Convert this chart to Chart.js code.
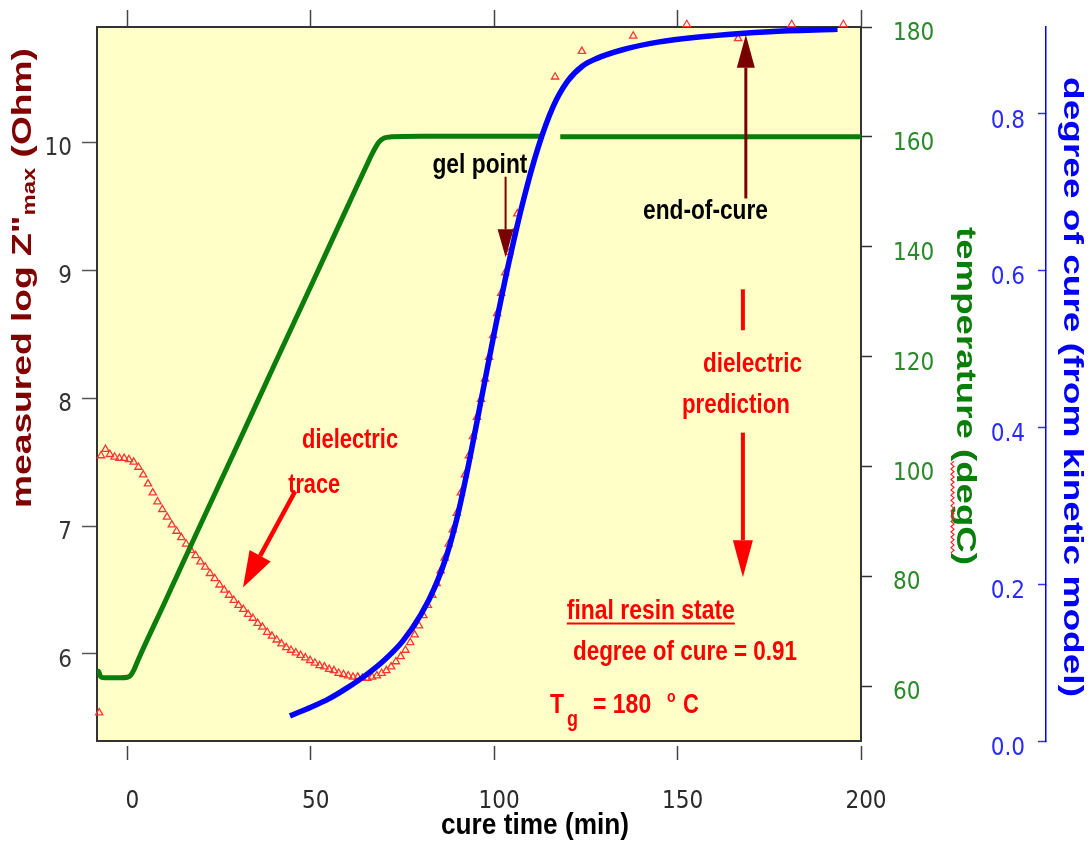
<!DOCTYPE html>
<html><head><meta charset="utf-8">
<script src="https://cdn.jsdelivr.net/npm/chart.js@4.4.1/dist/chart.umd.min.js"></script>
<style>html,body{margin:0;padding:0;background:#fff;}canvas{display:block;}</style>
</head><body>
<canvas id="c" width="1091" height="841" style="width:1091px;height:841px"></canvas>
<script>
// ---------------- data ----------------
const traceTime = [-7.2,-6.0,-4.8,-3.5,-2.2,-0.9,0.4,1.7,3.0,4.3,5.6,6.9,8.2,9.5,10.8,12.1,13.4,14.7,16.0,17.3,
  18.6,19.9,21.2,22.5,23.8,25.1,26.4,27.7,29.0,30.3,31.6,32.9,34.2,35.5,36.8,38.1,39.4,40.7,42.0,43.3,
  44.6,45.9,47.2,48.5,49.8,51.1,52.4,53.7,55.0,56.3,57.6,58.9,60.2,61.5,62.8,64.1,65.4,66.7,68.0,69.3,
  70.6,71.9,73.2,74.5,75.8,77.1,78.3,79.5,80.7,81.9,83.1,84.3,85.4,86.5,87.6,88.7,89.8,90.9,92.0,93.1,
  94.2,95.3,96.4,97.5,98.6,99.7,100.8,101.9,103.0,104.1,105.2,106.3,
  116.6,123.9,137.9,152.5,166.5,181.1,195.2];
const traceLogZ = [7.55,7.60,7.56,7.54,7.53,7.53,7.52,7.50,7.46,7.40,7.33,7.26,7.19,7.13,7.07,7.01,6.96,6.91,6.86,6.81,
  6.77,6.72,6.68,6.63,6.59,6.54,6.50,6.46,6.42,6.38,6.35,6.31,6.28,6.24,6.21,6.17,6.14,6.11,6.08,6.05,
  6.03,6.01,5.99,5.97,5.95,5.93,5.91,5.90,5.88,5.87,5.85,5.84,5.83,5.82,5.82,5.81,5.81,5.82,5.83,5.85,
  5.87,5.90,5.94,5.98,6.03,6.09,6.15,6.22,6.30,6.38,6.46,6.55,6.65,6.75,6.86,6.97,7.10,7.26,7.40,7.55,
  7.70,7.85,7.99,8.15,8.32,8.49,8.66,8.82,8.98,9.14,9.29,9.44,
  10.51,10.71,10.83,10.92,10.81,10.92,10.92];
const outlierTime = [-7.7];
const outlierLogZ = [5.54];

const tempTime = [-8.3,-7.9,-7.3,-6,-4,-2,0,0.8,1.8,3,10,20,30,40,50,60,65,67,68.5,70,72,80,90,100,110,112.6,115,118,125,140,160,180,200];
const tempC    = [62.3,62.7,61.7,61.5,61.5,61.5,61.6,61.9,63.0,64.9,75.0,89.5,103.9,118.4,132.8,147.3,154.5,157.3,159.0,159.8,160.0,160.1,160.1,160.1,160.1,160.1,null,160.0,160.0,160.0,160.0,160.0,160.0];

const cureTime   = [44.3,50,55,60,65,70,75,80,84,87,90,93,96,100,104,108,112,116,120,124,128,135,145,160,175,193.6];
const cureDegree = [0.032,0.043,0.054,0.068,0.084,0.103,0.127,0.161,0.198,0.236,0.287,0.352,0.424,0.520,0.610,0.690,0.757,0.808,0.841,0.860,0.870,0.881,0.891,0.899,0.904,0.907];

const xTicks    = [0,50,100,150,200];
const logZTicks = [6,7,8,9,10];
const tempTicks = [60,80,100,120,140,160,180];
const cureTicks = [0,0.2,0.4,0.6,0.8];

// ---------------- styling ----------------
const SANS = "'Liberation Sans', Arial, Helvetica, sans-serif";
const NARROW = "'Liberation Sans Narrow', 'Arial Narrow', 'DejaVu Sans Condensed', sans-serif";
const RED = '#ff0000', DARKRED = '#7a0000', GREEN = '#0b7d0b', BLUE = '#0000ff', MAROON = '#800000';

const pts = (xs, ys) => xs.map((x, i) => ({x, y: ys[i]}));
const setTicks = arr => s => { s.ticks = arr.map(v => ({value: v})); };
const fixSize = (w, h) => s => {
  if (w !== null) s.width = w;
  if (h !== null) s.height = h;
  s.paddingTop = 0; s.paddingBottom = 0; s.paddingLeft = 0; s.paddingRight = 0;
};

function txt(ctx, s, x, y, o) {
  ctx.save();
  ctx.font = `${o.weight || 'bold'} ${o.size}px ${o.family || SANS}`;
  const w = ctx.measureText(s).width;
  const sx = o.width ? o.width / w : (o.sx || 1);
  ctx.translate(x, y);
  if (o.rot) ctx.rotate(o.rot);
  ctx.scale(sx, o.sy || 1);
  ctx.fillStyle = o.color;
  ctx.textBaseline = 'alphabetic';
  ctx.textAlign = 'left';
  ctx.fillText(s, o.align === 'left' ? 0 : -w / 2, 0);
  ctx.restore();
  return w * sx;
}
function arrow(ctx, x1, y1, x2, y2, color, lw, hl, hw) {
  const a = Math.atan2(y2 - y1, x2 - x1);
  const bx = x2 - hl * Math.cos(a), by = y2 - hl * Math.sin(a);
  ctx.save();
  ctx.strokeStyle = color; ctx.fillStyle = color; ctx.lineWidth = lw;
  ctx.beginPath(); ctx.moveTo(x1, y1); ctx.lineTo(bx, by); ctx.stroke();
  ctx.beginPath(); ctx.moveTo(x2, y2);
  ctx.lineTo(bx + hw / 2 * Math.sin(a), by - hw / 2 * Math.cos(a));
  ctx.lineTo(bx - hw / 2 * Math.sin(a), by + hw / 2 * Math.cos(a));
  ctx.closePath(); ctx.fill();
  ctx.restore();
}
function richRotated(ctx, parts, bx, cy, rot, len, color) {
  ctx.save();
  let total = 0;
  parts.forEach(p => { ctx.font = `bold ${p.size}px ${SANS}`; p.w = ctx.measureText(p.t).width; total += p.w; });
  ctx.translate(bx, cy); ctx.rotate(rot); ctx.scale(len / total, 1);
  ctx.fillStyle = color; ctx.textBaseline = 'alphabetic'; ctx.textAlign = 'left';
  let x = -total / 2;
  parts.forEach(p => {
    ctx.font = `bold ${p.size}px ${SANS}`;
    ctx.fillText(p.t, x, p.dy || 0);
    if (p.squiggle) {
      ctx.strokeStyle = '#ff2020'; ctx.lineWidth = 1; ctx.beginPath();
      for (let k = 0; k <= p.w; k += 2) ctx.lineTo(x + k, 4 + ((k / 2) % 2 ? 1.5 : -1.5));
      ctx.stroke();
    }
    x += p.w;
  });
  ctx.restore();
}

const decor = {
  id: 'decor',
  beforeDraw(chart) {
    const {ctx, chartArea: a} = chart;
    ctx.save(); ctx.fillStyle = '#FFFFC8';
    ctx.fillRect(a.left, a.top, a.right - a.left, a.bottom - a.top); ctx.restore();
  },
  afterDraw(chart) {
    const ctx = chart.ctx, X = chart.scales.x, Y = chart.scales.yL;
    const px = t => X.getPixelForValue(t), py = v => Y.getPixelForValue(v);
    const SY = 1.22;
    // gel point
    txt(ctx, 'gel point', px(96.1), py(9.76), {size: 22, color: '#000', width: 95, sy: SY});
    arrow(ctx, px(103.1), py(9.73), px(103.1), py(9.10), DARKRED, 2, 28, 16);
    // end-of-cure
    txt(ctx, 'end-of-cure', px(157.6), py(9.40), {size: 22, color: '#000', width: 125, sy: SY});
    arrow(ctx, px(168.6), py(9.56), px(168.6), py(10.84), DARKRED, 3, 33, 18);
    // dielectric prediction
    ctx.save(); ctx.strokeStyle = RED; ctx.lineWidth = 4; ctx.beginPath();
    ctx.moveTo(px(167.8), py(8.85)); ctx.lineTo(px(167.8), py(8.53)); ctx.stroke(); ctx.restore();
    txt(ctx, 'dielectric', px(170.4), py(8.20), {size: 22, color: RED, width: 99, sy: SY});
    txt(ctx, 'prediction', px(165.9), py(7.88), {size: 22, color: RED, width: 108, sy: SY});
    arrow(ctx, px(167.8), py(7.73), px(167.8), py(6.60), RED, 4, 37, 20);
    // dielectric trace
    txt(ctx, 'dielectric', px(60.7), py(7.61), {size: 22, color: RED, width: 96, sy: SY});
    txt(ctx, 'trace', px(50.9), py(7.26), {size: 22, color: RED, width: 52, sy: SY});
    arrow(ctx, px(45.7), py(7.27), px(31.5), py(6.52), RED, 4.5, 36, 24);
    // final resin state
    const fx = px(142.7), fy = py(6.27);
    const fw = txt(ctx, 'final resin state', fx, fy, {size: 22, color: RED, width: 168, sy: SY});
    ctx.save(); ctx.strokeStyle = RED; ctx.lineWidth = 2; ctx.beginPath();
    ctx.moveTo(fx - fw / 2, fy + 4); ctx.lineTo(fx + fw / 2, fy + 4); ctx.stroke(); ctx.restore();
    txt(ctx, 'degree of cure = 0.91', px(152.0), py(5.95), {size: 22, color: RED, width: 224, sy: SY});
    // Tg = 180 oC
    const tx = px(115.2), ty = py(5.54);
    txt(ctx, 'T', tx, ty, {size: 23, color: RED, sy: SY, align: 'left'});
    txt(ctx, 'g', tx + 17, ty + 13, {size: 18, color: RED, sy: SY, align: 'left'});
    txt(ctx, '= 180', tx + 43, ty, {size: 23, color: RED, sy: SY, align: 'left'});
    txt(ctx, 'o', tx + 117, ty - 11, {size: 14, color: RED, sy: SY, align: 'left'});
    txt(ctx, 'C', tx + 133, ty, {size: 22, color: RED, sy: SY, align: 'left'});

    // axis titles
    richRotated(ctx, [{t: 'measured log Z"', size: 28}, {t: 'max', size: 18, dy: 4}, {t: ' (Ohm)', size: 28}],
      30.5, 278, -Math.PI / 2, 460, MAROON);
    richRotated(ctx, [{t: 'temperature (', size: 28}, {t: 'degC', size: 28, squiggle: true}, {t: ')', size: 28}],
      956.5, 396, Math.PI / 2, 338, GREEN);
    richRotated(ctx, [{t: 'degree of cure (from kinetic model)', size: 27}],
      1063.5, 387, Math.PI / 2, 620, BLUE);
    txt(ctx, 'cure time (min)', 535, 834, {size: 26, color: '#000', width: 188, sy: 1.15});
  }
};

const tickFont = {family: NARROW, size: 24};
const noGrid = (len, color, extra) => Object.assign({drawOnChartArea: false, drawTicks: true, tickLength: len, tickColor: color, tickWidth: 1.5}, extra || {});

new Chart(document.getElementById('c'), {
  type: 'line',
  data: {
    datasets: [
      {label: 'degree of cure (kinetic model)', data: pts(cureTime, cureDegree), xAxisID: 'x', yAxisID: 'yD',
        borderColor: BLUE, borderWidth: 5.5, pointRadius: 0, cubicInterpolationMode: 'monotone', fill: false, order: 0},
      {label: 'temperature', data: pts(tempTime, tempC), xAxisID: 'x', yAxisID: 'yT',
        borderColor: GREEN, borderWidth: 5, pointRadius: 0, cubicInterpolationMode: 'monotone', spanGaps: false, fill: false, order: 1},
      {label: 'dielectric trace', data: pts(traceTime, traceLogZ), xAxisID: 'x', yAxisID: 'yL', showLine: false,
        pointStyle: 'triangle', pointRadius: 4.2, pointBorderColor: '#ff3535', pointBackgroundColor: 'rgba(0,0,0,0)',
        pointBorderWidth: 1.3, clip: false, order: 2},
      {label: 'dielectric outlier', data: pts(outlierTime, outlierLogZ), xAxisID: 'x', yAxisID: 'yL', showLine: false,
        pointStyle: 'triangle', pointRadius: 4.2, pointBorderColor: '#ff3535', pointBackgroundColor: 'rgba(0,0,0,0)',
        pointBorderWidth: 1.3, clip: false, order: 2}
    ]
  },
  options: {
    responsive: false, animation: false, events: [], devicePixelRatio: 1,
    layout: {padding: 0},
    plugins: {legend: {display: false}, tooltip: {enabled: false}},
    scales: {
      x: {type: 'linear', position: 'bottom', min: -8.3, max: 200,
        afterBuildTicks: setTicks(xTicks), afterFit: fixSize(null, 100),
        border: {display: true, color: '#333', width: 2},
        grid: noGrid(19, '#444', {tickBorderDash: [0, 4, 15, 100]}),
        ticks: {font: tickFont, color: '#2a2a2a', padding: 27, maxRotation: 0, autoSkip: false, labelOffset: 5}},
      x2: {type: 'linear', position: 'top', min: -8.3, max: 200,
        afterBuildTicks: setTicks(xTicks), afterFit: fixSize(null, 27),
        border: {display: true, color: '#333', width: 2},
        grid: noGrid(17, '#444'), ticks: {display: false}},
      yL: {type: 'linear', position: 'left', min: 5.32, max: 10.9,
        afterBuildTicks: setTicks(logZTicks), afterFit: fixSize(97, null),
        border: {display: true, color: '#333', width: 2},
        grid: noGrid(15, '#555'),
        ticks: {font: tickFont, color: '#333', padding: 10, labelOffset: 7, autoSkip: false}},
      yT: {type: 'linear', position: 'right', min: 50, max: 180, weight: 0,
        afterBuildTicks: setTicks(tempTicks), afterFit: fixSize(185, null),
        border: {display: true, color: '#333', width: 2},
        grid: noGrid(11, '#333'),
        ticks: {font: tickFont, color: '#2a8a2a', padding: 21, labelOffset: 7, autoSkip: false}},
      yD: {type: 'linear', position: 'right', min: 0, max: 0.91, weight: 1,
        afterBuildTicks: setTicks(cureTicks), afterFit: fixSize(45, null),
        border: {display: true, color: BLUE, width: 1.5},
        grid: noGrid(-8, '#3030ff'),
        ticks: {font: tickFont, color: '#2b2bff', mirror: true, padding: -21, labelOffset: 8, autoSkip: false,
          callback: v => v.toFixed(1)}}
    }
  },
  plugins: [decor]
});
</script>
</body></html>
